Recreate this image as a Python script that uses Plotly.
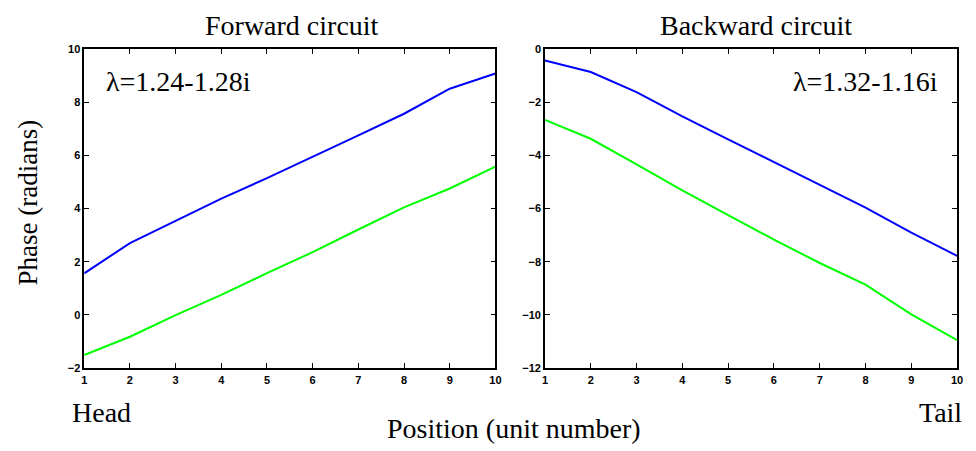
import plotly.graph_objects as go
from plotly.subplots import make_subplots

positions = [1, 2, 3, 4, 5, 6, 7, 8, 9, 10]
fwd_blue = [1.56, 2.70, 3.53, 4.37, 5.14, 5.96, 6.75, 7.56, 8.50, 9.07]
fwd_green = [-1.51, -0.82, -0.01, 0.75, 1.57, 2.36, 3.21, 4.04, 4.75, 5.57]
bwd_blue = [-0.44, -0.87, -1.63, -2.54, -3.40, -4.26, -5.11, -5.97, -6.91, -7.78]
bwd_green = [-2.67, -3.38, -4.34, -5.32, -6.25, -7.17, -8.05, -8.86, -9.98, -10.95]
fwd_yticks = [-2, 0, 2, 4, 6, 8, 10]
bwd_yticks = [-12, -10, -8, -6, -4, -2, 0]

W, H = 976, 451
def px(x):
    return x / W
def py(y):
    return (H - y) / H

fig = make_subplots(rows=1, cols=2)
BLUE = "#0000FF"
GREEN = "#00FF00"
fig.add_trace(go.Scatter(x=positions, y=fwd_blue, mode="lines", line=dict(color=BLUE, width=2), showlegend=False), 1, 1)
fig.add_trace(go.Scatter(x=positions, y=fwd_green, mode="lines", line=dict(color=GREEN, width=2), showlegend=False), 1, 1)
fig.add_trace(go.Scatter(x=positions, y=bwd_blue, mode="lines", line=dict(color=BLUE, width=2), showlegend=False), 1, 2)
fig.add_trace(go.Scatter(x=positions, y=bwd_green, mode="lines", line=dict(color=GREEN, width=2), showlegend=False), 1, 2)

tickfont = dict(family="Liberation Sans Narrow, Arial Narrow, Liberation Sans, Arial", size=11, color="black", weight="bold")
axis_common = dict(showline=True, linecolor="black", linewidth=1.5, mirror="ticks", ticks="inside",
                   ticklen=5, tickwidth=1, tickcolor="black", showgrid=False, zeroline=False,
                   tickfont=tickfont)

fig.update_xaxes(**axis_common, range=[1, 10], tickvals=positions, ticklabelstandoff=1)
fig.update_yaxes(**axis_common)
fig.update_layout(
    xaxis=dict(domain=[px(82), px(497)]),
    xaxis2=dict(domain=[px(547), px(963)]),
    yaxis=dict(domain=[py(372), py(44)], range=[-2, 10], tickvals=fwd_yticks),
    yaxis2=dict(domain=[py(372), py(44)], range=[-12, 0], tickvals=bwd_yticks),
)

serif = "Liberation Serif, Times New Roman, serif"
def ann(text, x, y, size, xanchor="center", textangle=0):
    fig.add_annotation(text=text, x=x, y=y, xref="paper", yref="paper", showarrow=False,
                       xanchor=xanchor, yanchor="middle", textangle=textangle,
                       font=dict(family=serif, size=size, color="black"))

ann("Forward circuit", px(292), py(20), 28)
ann("Backward circuit", px(760), py(20), 28)
ann("λ=1.24-1.28i", px(102), py(78), 28, xanchor="left")
ann("λ=1.32-1.16i", px(946), py(78), 28, xanchor="right")
ann("Phase (radians)", px(25), py(202), 27, textangle=-90)
ann("Head", px(68), py(418), 28, xanchor="left")
ann("Tail", px(970), py(418), 28, xanchor="right")
ann("Position (unit number)", px(516), py(434), 28)

fig.update_layout(width=W, height=H, margin=dict(l=0, r=0, t=0, b=0),
                  plot_bgcolor="white", paper_bgcolor="white", showlegend=False)
fig.write_html("out.html")
